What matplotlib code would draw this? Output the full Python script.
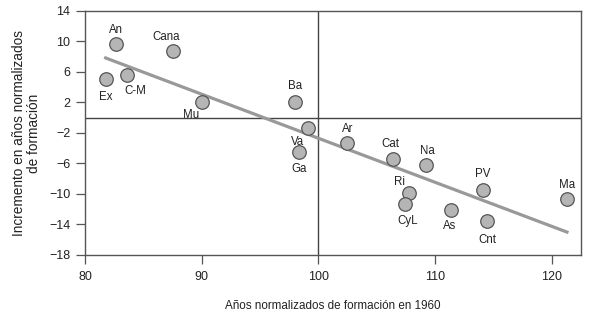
import numpy as np
import matplotlib
matplotlib.use('Agg')
import matplotlib.pyplot as plt

plt.rcParams['font.family'] = ['Liberation Sans', 'DejaVu Sans']

# regiones y valores
regiones = ['An', 'Ex', 'C-M', 'Cana', 'Mu', 'Ba', 'Va', 'Ga', 'Ar',
            'Cat', 'Na', 'Ri', 'CyL', 'As', 'PV', 'Cnt', 'Ma']
anos_1960 = [82.66, 81.77, 83.57, 87.51, 90.0, 98.0, 99.13, 98.34, 102.48,
             106.42, 109.25, 107.74, 107.40, 111.36, 114.08, 114.45, 121.30]
incremento = [9.62, 5.03, 5.55, 8.74, 2.08, 2.08, -1.28, -4.53, -3.31,
              -5.36, -6.24, -9.88, -11.32, -12.15, -9.43, -13.56, -10.70]

# donde va cada etiqueta respecto al punto (en puntos tipograficos)
offsets = {'An': (0, 6), 'Ex': (0, -8), 'C-M': (6, -7), 'Cana': (-5, 6),
           'Mu': (-8, -5), 'Ba': (0, 7), 'Va': (-8, -6), 'Ga': (0, -8),
           'Ar': (0, 6), 'Cat': (-2, 6), 'Na': (1, 6), 'Ri': (-7, 4),
           'CyL': (2, -8), 'As': (-1, -7), 'PV': (0, 7), 'Cnt': (0, -9),
           'Ma': (0, 6)}

x = np.array(anos_1960)
y = np.array(incremento)

fig = plt.figure(figsize=(5.89, 3.17), dpi=100)
ax = fig.add_axes([0.1443, 0.1956, 0.8421, 0.7697])

ax.axhline(0, color='#444444', lw=1, zorder=1)
ax.axvline(100, color='#444444', lw=1, zorder=1)

# recta de regresion
b, a = np.polyfit(x, y, 1)
xs = np.array([x.min(), x.max()])
ax.plot(xs, a + b * xs, color='#999999', lw=2.3, zorder=2)

ax.scatter(x, y, s=95, facecolor='#b5b5b5', edgecolor='#555555',
           linewidth=0.9, zorder=3)

for nom, xi, yi in zip(regiones, x, y):
    dx, dy = offsets[nom]
    va = 'bottom' if dy > 0 else 'top'
    ax.annotate(nom, (xi, yi), xytext=(dx, dy), textcoords='offset points',
                ha='center', va=va, fontsize=8.3, color='#222222')

ax.set_xlim(80, 122.5)
ax.set_ylim(-18, 14)
ax.set_xticks([80, 90, 100, 110, 120])
ax.set_yticks([14, 10, 6, 2, -2, -6, -10, -14, -18])
ax.set_yticklabels(['14', '10', '6', '2', '\u22122', '\u22126', '\u221210',
                    '\u221214', '\u221218'])
ax.tick_params(direction='out', length=6.5, width=0.9, color='#555555',
               labelsize=9, labelcolor='#222222', pad=4)
ax.tick_params(axis='x', pad=5)
for s in ax.spines.values():
    s.set_color('#555555')
    s.set_linewidth(1)

ax.set_xlabel('Años normalizados de formación en 1960', fontsize=8.4,
              color='#222222', labelpad=12)
ax.set_ylabel('Incremento en años normalizados\nde formación', fontsize=9.8,
              color='#222222', labelpad=6, multialignment='center',
              linespacing=1.05)

fig.savefig('out.png', dpi=100)
